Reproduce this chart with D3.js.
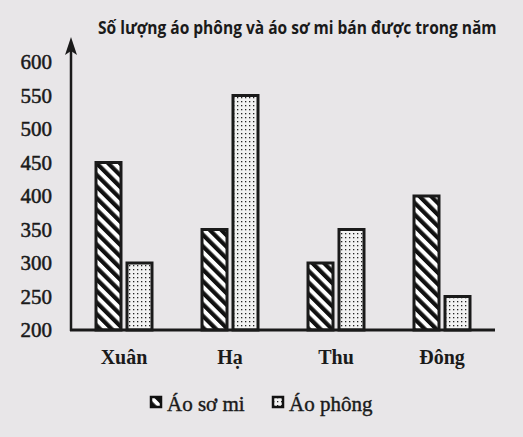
<!DOCTYPE html>
<html><head><meta charset="utf-8">
<script src="https://cdn.jsdelivr.net/npm/d3@7"></script>
<style>html,body{margin:0;padding:0;background:#e8e6e8;}</style>
</head><body>
<svg id="c" width="523" height="437"></svg>
<script>
const categories = ["Xuân", "Hạ", "Thu", "Đông"];
const aoSoMi = [450, 350, 300, 400];
const aoPhong = [300, 550, 350, 250];
const yTicks = [200, 250, 300, 350, 400, 450, 500, 550, 600];
const seriesNames = ["Áo sơ mi", "Áo phông"];
const title = "Số lượng áo phông và áo sơ mi bán được trong năm";

const svg = d3.select("#c");
svg.append("rect").attr("width",523).attr("height",437).attr("fill","#e8e6e8");

const defs = svg.append("defs");
const stripe = defs.append("pattern").attr("id","stripe").attr("patternUnits","userSpaceOnUse")
  .attr("width",8.2).attr("height",8.2).attr("patternTransform","rotate(-45)");
stripe.append("rect").attr("width",8.2).attr("height",8.2).attr("fill","#ffffff");
stripe.append("rect").attr("width",4.2).attr("height",8.2).attr("fill","#111");

const dots = defs.append("pattern").attr("id","dots").attr("patternUnits","userSpaceOnUse")
  .attr("width",4).attr("height",4);
dots.append("rect").attr("width",4).attr("height",4).attr("fill","#f2f2f2");
dots.append("rect").attr("x",1).attr("y",1).attr("width",1.3).attr("height",1.3).attr("fill","#222");

const x = d3.scaleBand().domain(categories).range([71, 495]);
const y = d3.scaleLinear().domain([200, 600]).range([330, 62]);

const serif = "'Liberation Serif','DejaVu Serif',serif";

// title (horizontally condensed via scale to fit 98..497)
const tG = svg.append("g");
const tT = tG.append("text").attr("x",0).attr("y",0).text(title)
  .attr("font-family","'Open Sans','Noto Sans',sans-serif").attr("font-weight","bold")
  .attr("font-size",17.5).attr("fill","#1a1a1a");
const natW = tT.node().getComputedTextLength();
tG.attr("transform",`translate(98,34) scale(${399/natW},1)`);

// y axis labels
const yAxis = d3.axisLeft(y).tickValues(yTicks).tickSize(0).tickPadding(19);
const gy = svg.append("g").attr("transform","translate(71,0)").call(yAxis);
gy.select(".domain").remove();
gy.selectAll("text").attr("font-family",serif).attr("font-size",21).attr("fill","#1a1a1a")
  .attr("stroke","#1a1a1a").attr("stroke-width",0.5);

// bars
const bw = 25;
const groups = svg.append("g");
groups.selectAll("rect.sm").data(categories).join("rect").attr("class","sm")
  .attr("x",d=>x(d)+x.bandwidth()/2-bw-3)
  .attr("y",(d,i)=>y(aoSoMi[i]))
  .attr("width",bw).attr("height",(d,i)=>y(200)-y(aoSoMi[i]))
  .attr("fill","url(#stripe)").attr("stroke","#1a1a1a").attr("stroke-width",3);
groups.selectAll("rect.ap").data(categories).join("rect").attr("class","ap")
  .attr("x",d=>x(d)+x.bandwidth()/2+3)
  .attr("y",(d,i)=>y(aoPhong[i]))
  .attr("width",bw).attr("height",(d,i)=>y(200)-y(aoPhong[i]))
  .attr("fill","url(#dots)").attr("stroke","#1a1a1a").attr("stroke-width",3);

// x axis
const xAxis = d3.axisBottom(x).tickSize(0).tickPadding(20);
const gx = svg.append("g").attr("transform","translate(0,330)").call(xAxis);
gx.select(".domain").remove();
gx.selectAll("text").attr("font-family",serif).attr("font-weight","bold").attr("font-size",20).attr("fill","#1a1a1a");
svg.append("line").attr("x1",70).attr("x2",495).attr("y1",330).attr("y2",330)
  .attr("stroke","#1a1a1a").attr("stroke-width",3);

// y axis line with arrow
svg.append("line").attr("x1",71).attr("x2",71).attr("y1",331).attr("y2",48)
  .attr("stroke","#1a1a1a").attr("stroke-width",2.5);
svg.append("path").attr("d","M71,37 L77,55 L71,51 L65,55 Z").attr("fill","#1a1a1a");

// legend
const leg = [{n:seriesNames[0], f:"url(#stripe)", x:150},{n:seriesNames[1], f:"url(#dots)", x:272}];
const lg = svg.append("g").selectAll("g").data(leg).join("g");
lg.append("rect").attr("x",d=>d.x+1).attr("y",397).attr("width",10).attr("height",10)
  .attr("fill",d=>d.f).attr("stroke","#111").attr("stroke-width",2.5);
lg.append("text").attr("x",d=>d.x+17).attr("y",411).text(d=>d.n)
  .attr("font-family",serif).attr("font-size",21).attr("fill","#1a1a1a")
  .attr("stroke","#1a1a1a").attr("stroke-width",0.4);
</script>
</body></html>
